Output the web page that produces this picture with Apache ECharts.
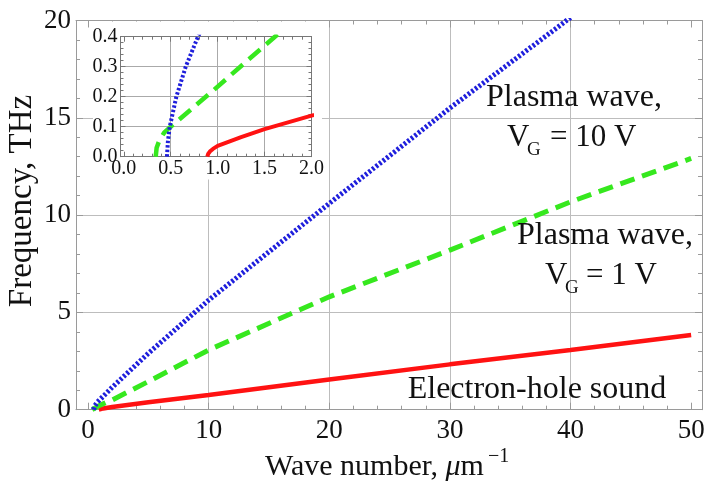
<!DOCTYPE html>
<html>
<head>
<meta charset="utf-8">
<script src="https://cdn.jsdelivr.net/npm/echarts@6/dist/echarts.min.js"></script>
<style>
  html, body { margin: 0; padding: 0; background: #fff; }
  #chart { width: 706px; height: 486px; }
</style>
</head>
<body>
<div id="chart"></div>
<script>
// wave number (1/um) vs frequency (THz)
const kPlasma10 = [0.46, 0.47, 0.49, 0.56, 0.66, 0.79, 1.5, 2, 5, 10, 20, 30, 40];
const fPlasma10 = [0, 0.05, 0.1, 0.2, 0.3, 0.4, 0.84, 1.15, 2.9, 5.63, 10.6, 15.5, 20.15];

const kPlasma1 = [0.34, 0.35, 0.38, 0.43, 0.5, 0.95, 1.26, 1.61, 2, 5, 10, 20, 30, 40, 50];
const fPlasma1 = [0, 0.03, 0.055, 0.08, 0.1, 0.22, 0.305, 0.4, 0.5, 1.45, 3.07, 5.8, 8.2, 10.68, 12.91];

const kSound = [0.89, 0.9, 0.92, 0.95, 1, 1.25, 1.5, 2, 5, 10, 20, 30, 40, 50];
const fSound = [0, 0.01, 0.018, 0.026, 0.036, 0.065, 0.092, 0.137, 0.38, 0.76, 1.55, 2.33, 3.07, 3.84];

const xTicks = [0, 10, 20, 30, 40, 50];
const xGrid = [10, 20, 30, 40];
const insetXTicks = [0, 0.5, 1, 1.5, 2];
const insetXGrid = [0.5, 1, 1.5];

const serif = 'Liberation Serif';
const ink = '#111';
const pairs = (k, f) => k.map((v, i) => [v, f[i]]);

// minor tick positions (mathematica style frame)
const minorX = [];
for (let v = 2; v < 50; v += 2) if (v % 10) minorX.push(v);
const minorInsetX = [];
for (let i = 1; i < 20; i++) if (i % 5) minorInsetX.push(i / 10);

const frameCol = '#9a9a9a';
const gridCol = '#bdbdbd';
const insetCol = '#777';

function xAxisOf(grid, pos, ticks, len, col, opts) {
  return Object.assign({
    type: 'value', gridIndex: grid, position: pos,
    axisLine: { show: false, onZero: false },
    axisTick: { show: len > 0, inside: true, length: len, customValues: ticks, lineStyle: { color: col } },
    axisLabel: { show: false },
    splitLine: { show: false }
  }, opts);
}

const mainX = { min: -1, max: 50.9 };
const insetX = { min: -0.035, max: 2, z: 20 };

const xAxes = [
  // 0: main bottom, frame + labels
  xAxisOf(0, 'bottom', xTicks, 7, frameCol, Object.assign({}, mainX, {
    axisLine: { show: true, onZero: false, lineStyle: { color: frameCol, width: 1 } },
    axisLabel: { show: true, customValues: xTicks, margin: 8, fontFamily: serif, fontSize: 27, color: ink }
  })),
  // 1: main top
  xAxisOf(0, 'top', xTicks, 7, frameCol, Object.assign({}, mainX, {
    axisLine: { show: true, onZero: false, lineStyle: { color: frameCol, width: 1 } }
  })),
  // 2,3: main minor ticks
  xAxisOf(0, 'bottom', minorX, 4, frameCol, mainX),
  xAxisOf(0, 'top', minorX, 4, frameCol, mainX),
  // 4: main grid lines
  xAxisOf(0, 'bottom', xGrid, 0, frameCol, Object.assign({}, mainX, {
    splitLine: { show: true, lineStyle: { color: gridCol } }
  })),
  // 5: inset bottom
  xAxisOf(1, 'bottom', insetXTicks, 5, insetCol, Object.assign({}, insetX, {
    axisLine: { show: true, onZero: false, lineStyle: { color: insetCol } },
    axisLabel: { show: true, customValues: insetXTicks, margin: 2, fontFamily: serif, fontSize: 20, color: ink,
      formatter: v => v.toFixed(1) }
  })),
  // 6: inset top
  xAxisOf(1, 'top', insetXTicks, 5, insetCol, Object.assign({}, insetX, {
    axisLine: { show: true, onZero: false, lineStyle: { color: insetCol } }
  })),
  // 7,8: inset minor ticks
  xAxisOf(1, 'bottom', minorInsetX, 3, insetCol, insetX),
  xAxisOf(1, 'top', minorInsetX, 3, insetCol, insetX),
  // 9: inset grid lines
  xAxisOf(1, 'bottom', insetXGrid, 0, insetCol, Object.assign({}, insetX, {
    splitLine: { show: true, lineStyle: { color: '#aaa' } }
  }))
];

function yAxisOf(grid, pos, col, opts) {
  return Object.assign({
    type: 'value', gridIndex: grid, position: pos,
    axisLine: { show: true, onZero: false, lineStyle: { color: col } },
    axisTick: { show: true, inside: true, length: 7, lineStyle: { color: col } },
    minorTick: { show: true, splitNumber: 5, length: 4, lineStyle: { color: col } },
    axisLabel: { show: false },
    splitLine: { show: false }
  }, opts);
}

const insetTicks = {
  axisTick: { inside: true, length: 5, lineStyle: { color: insetCol } },
  minorTick: { show: true, splitNumber: 5, length: 3, lineStyle: { color: insetCol } }
};

const yAxes = [
  yAxisOf(0, 'left', frameCol, {
    min: 0, max: 20, interval: 5,
    axisLabel: { show: true, margin: 5, fontFamily: serif, fontSize: 27, color: ink },
    splitLine: { show: true, lineStyle: { color: gridCol } }
  }),
  yAxisOf(0, 'right', frameCol, { min: 0, max: 20, interval: 5 }),
  yAxisOf(1, 'left', insetCol, Object.assign({
    min: 0, max: 0.4, interval: 0.1, z: 20,
    axisLabel: { show: true, margin: 3, fontFamily: serif, fontSize: 20, color: ink, formatter: v => v.toFixed(1) },
    splitLine: { show: true, lineStyle: { color: '#aaa' } }
  }, insetTicks)),
  yAxisOf(1, 'right', insetCol, Object.assign({ min: 0, max: 0.4, interval: 0.1, z: 20 }, insetTicks))
];

const styles = {
  blue: { color: '#1f1fdc', type: [2.5, 2], cap: 'butt' },
  green: { color: '#36e81e', type: [15, 8], cap: 'butt' },
  red: { color: '#ff1212', type: 'solid' }
};

function lineSeries(name, data, st, width, xi, yi, z) {
  return {
    name, type: 'line', data, xAxisIndex: xi, yAxisIndex: yi,
    showSymbol: false, symbol: 'none', smooth: false, clip: true, z,
    lineStyle: Object.assign({ width }, st),
    emphasis: { disabled: true }, silent: true
  };
}

const series = [
  lineSeries('Electron-hole sound', pairs(kSound, fSound), styles.red, 4.5, 0, 0, 2),
  lineSeries('Plasma wave, VG = 1 V', pairs(kPlasma1, fPlasma1), styles.green, 5, 0, 0, 2),
  lineSeries('Plasma wave, VG = 10 V', pairs(kPlasma10, fPlasma10), styles.blue, 5, 0, 0, 2),
  lineSeries('inset sound', pairs(kSound, fSound), styles.red, 4, 5, 2, 30),
  lineSeries('inset 1 V', pairs(kPlasma1, fPlasma1), styles.green, 4.5, 5, 2, 30),
  lineSeries('inset 10 V', pairs(kPlasma10, fPlasma10), styles.blue, 4, 5, 2, 30)
];

function txt(x, y, text, size, align, extra) {
  return Object.assign({
    type: 'text', x, y, z: 50,
    style: { text, fontFamily: serif, fontSize: size, fill: ink, align: align || 'center', verticalAlign: 'middle' }
  }, extra);
}

const graphic = [
  { type: 'rect', z: 10, shape: { x: 93, y: 21.5, width: 229, height: 158 }, style: { fill: '#fff' } },
  txt(22, 201, 'Frequency, THz', 33, 'center', { rotation: Math.PI / 2 }),
  {
    type: 'text', x: 265, y: 467, z: 50,
    style: {
      text: '{n|Wave number, }{i|μ}{n|m}', align: 'left', verticalAlign: 'middle', fill: ink,
      rich: {
        n: { fontFamily: serif, fontSize: 30, fill: ink },
        i: { fontFamily: serif, fontSize: 30, fontStyle: 'italic', fill: ink }
      }
    }
  },
  txt(488, 457, '−1', 20, 'left'),
  txt(574, 98, 'Plasma wave,', 32),
  txt(507, 138, 'V', 31, 'left'),
  txt(527, 150, 'G', 19, 'left'),
  txt(550, 138, '= 10 V', 31, 'left'),
  txt(605, 236, 'Plasma wave,', 32),
  txt(545, 276, 'V', 31, 'left'),
  txt(565, 288, 'G', 19, 'left'),
  txt(586, 276, '= 1 V', 31, 'left'),
  txt(537, 390, 'Electron-hole sound', 32)
];

const chart = echarts.init(document.getElementById('chart'), null, { renderer: 'canvas' });
chart.setOption({
  animation: false,
  backgroundColor: '#fff',
  grid: [
    { left: 76, right: 4, top: 20.5, bottom: 76.3, containLabel: false, outerBoundsMode: 'none' },
    { left: 120.5, top: 36.7, width: 191, height: 120, containLabel: false, outerBoundsMode: 'none' }
  ],
  xAxis: xAxes,
  yAxis: yAxes,
  series,
  graphic
});
</script>
</body>
</html>
